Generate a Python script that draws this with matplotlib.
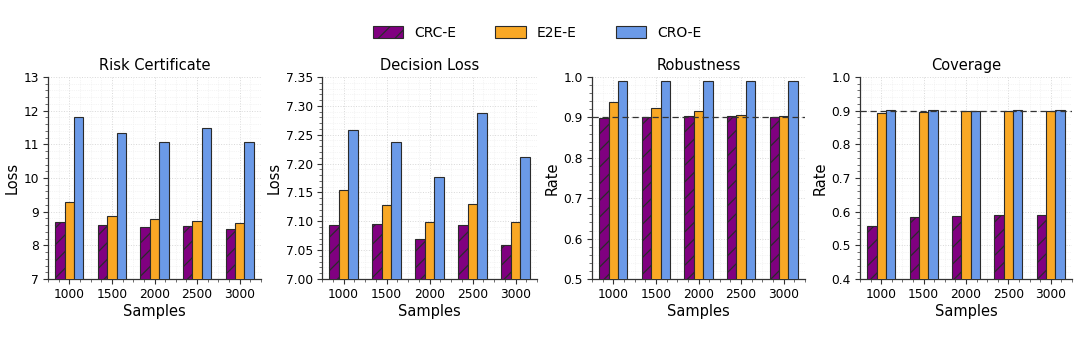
import numpy as np
import matplotlib
matplotlib.use("Agg")
import matplotlib.pyplot as plt
from matplotlib.ticker import AutoMinorLocator, MultipleLocator, FormatStrFormatter

samples = ["1000", "1500", "2000", "2500", "3000"]
methods = ["CRC-E", "E2E-E", "CRO-E"]

risk_crc = [8.68, 8.60, 8.55, 8.57, 8.48]
risk_e2e = [9.29, 8.88, 8.77, 8.72, 8.67]
risk_cro = [11.81, 11.33, 11.06, 11.50, 11.07]

decision_crc = [7.094, 7.095, 7.070, 7.094, 7.059]
decision_e2e = [7.155, 7.128, 7.098, 7.130, 7.098]
decision_cro = [7.258, 7.238, 7.177, 7.287, 7.211]

robust_crc = [0.899, 0.900, 0.903, 0.903, 0.902]
robust_e2e = [0.937, 0.924, 0.917, 0.907, 0.904]
robust_cro = [0.990, 0.989, 0.989, 0.990, 0.990]

coverage_crc = [0.556, 0.583, 0.586, 0.589, 0.591]
coverage_e2e = [0.894, 0.897, 0.899, 0.899, 0.899]
coverage_cro = [0.901, 0.903, 0.900, 0.901, 0.901]

target_rate = 0.9

panels = [
    ("Risk Certificate", "Loss", (risk_crc, risk_e2e, risk_cro), (7, 13), 1, "%d", None),
    ("Decision Loss", "Loss", (decision_crc, decision_e2e, decision_cro), (7.0, 7.35), 0.05, "%.2f", None),
    ("Robustness", "Rate", (robust_crc, robust_e2e, robust_cro), (0.5, 1.0), 0.1, "%.1f", target_rate),
    ("Coverage", "Rate", (coverage_crc, coverage_e2e, coverage_cro), (0.4, 1.0), 0.1, "%.1f", target_rate),
]

colors = ["#800080", "#F9A825", "#6B9AE8"]
hatches = ["//", None, None]
edge = "#2b2b2b"

fig = plt.figure(figsize=(10.8, 3.41), dpi=100)
plt.rcParams["hatch.linewidth"] = 0.9
plt.rcParams["hatch.color"] = "#111111"

# axes placement in figure pixels: (left, right)
W, H = 1080, 341
spans = [(48, 261), (322, 537), (592, 805), (860, 1072)]
top_px, bot_px = 77, 279

x = np.arange(len(samples))
width = 0.22
offsets = [-width, 0.0, width]

handles = None
for (title, ylabel, series, ylim, step, fmt, ref), (l, r) in zip(panels, spans):
    ax = fig.add_axes([l / W, 1 - bot_px / H, (r - l) / W, (bot_px - top_px) / H])
    bars = []
    for vals, off, c, h, name in zip(series, offsets, colors, hatches, methods):
        b = ax.bar(x + off, vals, width, color=c, edgecolor=edge, linewidth=0.8,
                   hatch=h, label=name, zorder=3)
        bars.append(b)
    if handles is None:
        handles = bars
    if ref is not None:
        ax.axhline(ref, color="#333333", linestyle=(0, (5, 3)), linewidth=0.9, zorder=4)
    ax.set_ylim(*ylim)
    ax.set_xlim(-0.5, 4.5)
    ax.yaxis.set_major_locator(MultipleLocator(step))
    ax.yaxis.set_major_formatter(FormatStrFormatter(fmt))
    ax.yaxis.set_minor_locator(AutoMinorLocator(5))
    ax.xaxis.set_minor_locator(AutoMinorLocator(4))
    ax.set_xticks(x)
    ax.set_xticklabels(samples)
    ax.set_title(title, fontsize=10.5, pad=5)
    ax.set_ylabel(ylabel, fontsize=10.5, labelpad=3)
    ax.set_xlabel("Samples", fontsize=10.5, labelpad=2)
    ax.tick_params(axis="both", which="major", labelsize=8.8, length=3.5, width=0.8,
                   color="#333333", pad=3)
    ax.tick_params(axis="both", which="minor", length=2, width=0.6, color="#555555")
    ax.grid(True, which="major", color="#d8d8d8", linestyle=":", linewidth=0.7, zorder=0)
    ax.grid(True, which="minor", color="#ebebeb", linestyle=":", linewidth=0.5, zorder=0)
    ax.set_axisbelow(True)
    for s in ("top", "right"):
        ax.spines[s].set_visible(False)
    for s in ("left", "bottom"):
        ax.spines[s].set_color("#333333")
        ax.spines[s].set_linewidth(0.9)

fig.legend(handles, methods, loc="center", bbox_to_anchor=(537 / W, 1 - 33 / H),
           ncol=3, frameon=False, fontsize=10, handlelength=2.2, handleheight=0.9,
           columnspacing=2.8, handletextpad=0.8)

fig.savefig("out.png", dpi=100)
